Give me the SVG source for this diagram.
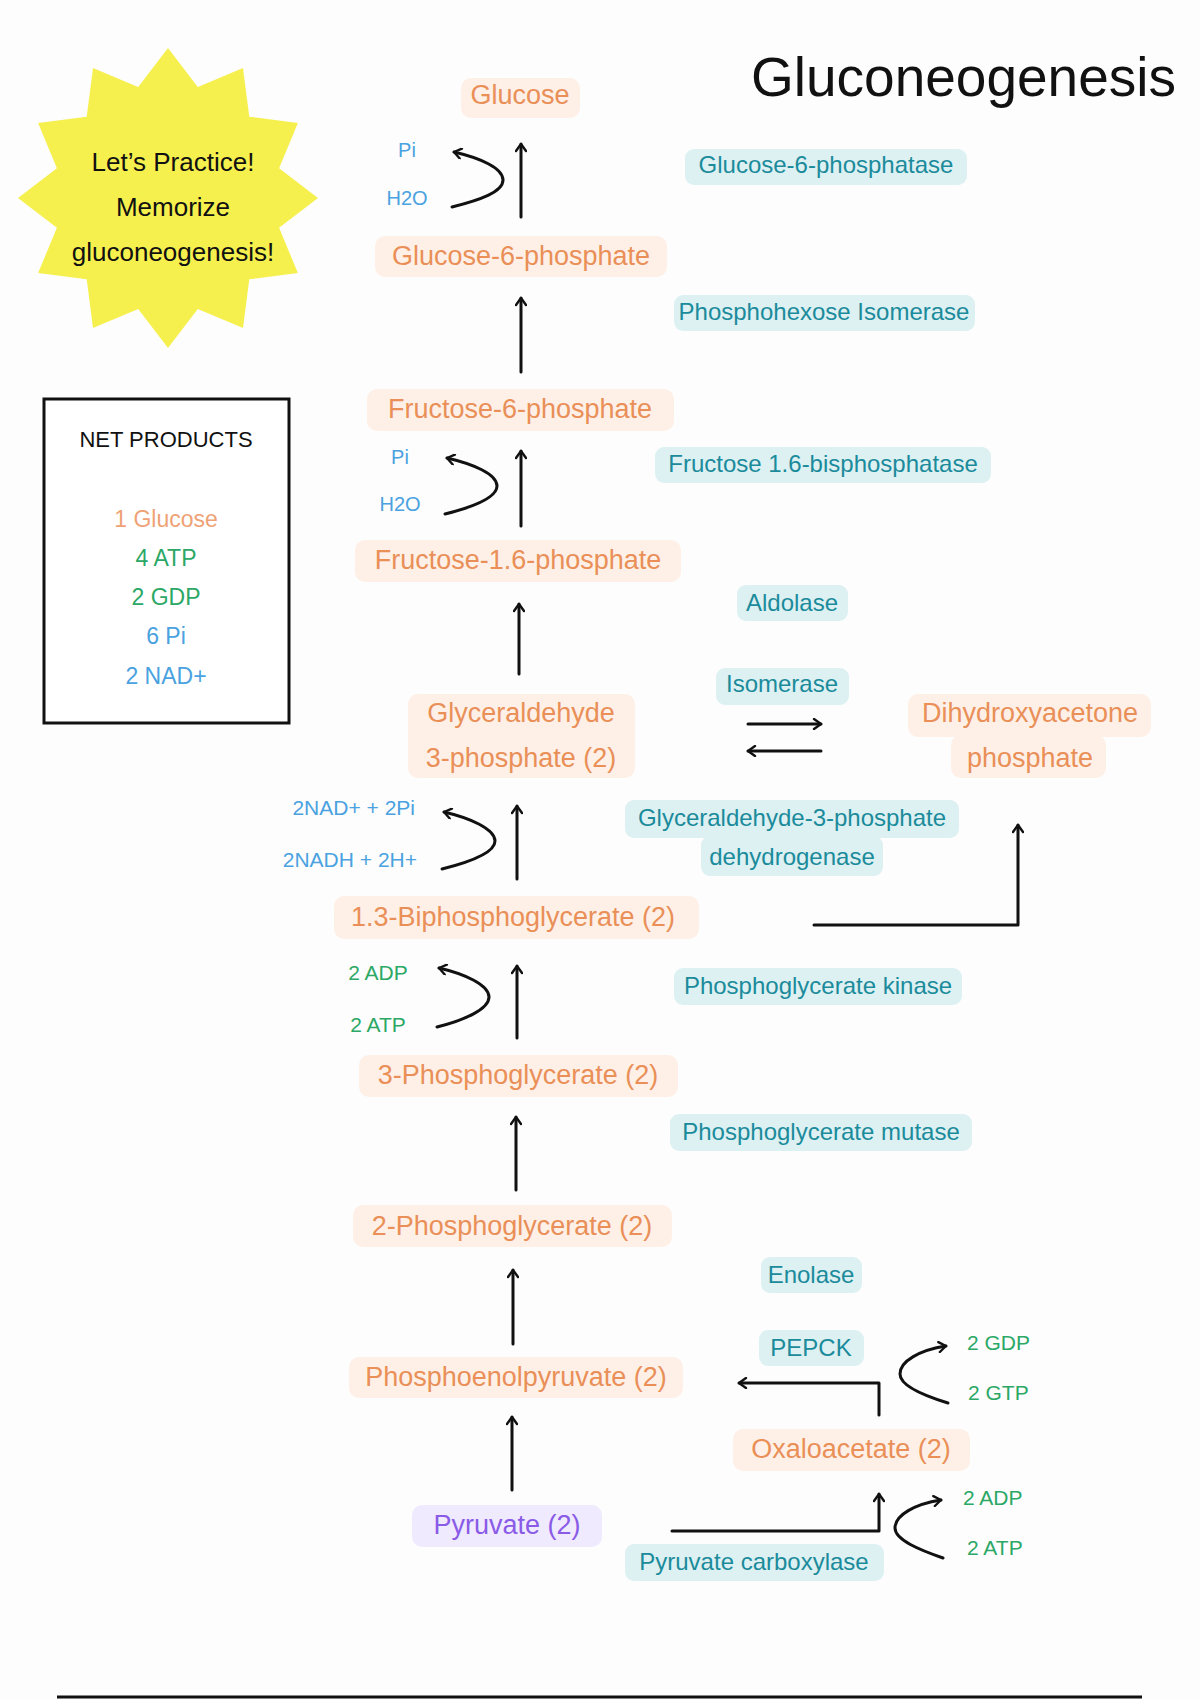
<svg xmlns="http://www.w3.org/2000/svg" width="1200" height="1700" viewBox="0 0 1200 1700">
<defs>
<marker id="ah" viewBox="0 0 12 12" refX="10" refY="6" markerWidth="12" markerHeight="12" orient="auto" markerUnits="userSpaceOnUse">
<path d="M3,1 L10,6 L3,11" fill="none" stroke="#111" stroke-width="2.4" stroke-linecap="round" stroke-linejoin="round"/>
</marker>
<style>
text{font-family:"Liberation Sans","Noto Sans",Arial,sans-serif;}
.met rect{fill:#FEF0E7;}
.met text{fill:#E98F57;font-size:27px;text-anchor:middle;}
.enz rect{fill:#DDF1F3;}
.enz text{fill:#1B8B9B;font-size:24px;text-anchor:middle;}
.pyr rect{fill:#EFEAFE;}
.pyr text{fill:#8A5BE6;font-size:27px;text-anchor:middle;}
.blue{fill:#4AA2E0;}
.green{fill:#2BA866;}
.sm{font-size:20px;}
.sm1{font-size:21px;}
.sm2{font-size:21px;}
.ln{fill:none;stroke:#111;stroke-width:3;stroke-linecap:round;stroke-linejoin:round;}
.arr{marker-end:url(#ah);}
</style>
</defs>
<rect x="0" y="0" width="1200" height="1700" fill="#FDFDFD"/>

<!-- Title -->
<text id="title" x="1176" y="96" font-size="55" text-anchor="end" fill="#111">Gluconeogenesis</text>

<!-- Starburst -->
<g id="practice-star">
<polygon fill="#F6F04E" points="168,48 197.8,86.9 243,68.1 249.3,116.7 297.9,123 279.1,168.2 318,198 279.1,227.8 297.9,273 249.3,279.3 243,327.9 197.8,309.1 168,348 138.2,309.1 93,327.9 86.7,279.3 38.1,273 56.9,227.8 18,198 56.9,168.2 38.1,123 86.7,116.7 93,68.1 138.2,86.9"/>
<text x="173" y="171" font-size="26" text-anchor="middle" fill="#111">Let’s Practice!</text>
<text x="173" y="216" font-size="26" text-anchor="middle" fill="#111">Memorize</text>
<text x="173" y="261" font-size="26" text-anchor="middle" fill="#111">gluconeogenesis!</text>
</g>

<!-- Net products -->
<g id="net-products">
<rect x="44" y="399" width="245" height="324" fill="#FFFFFF" stroke="#111" stroke-width="3"/>
<text x="166" y="447" font-size="22" text-anchor="middle" fill="#111">NET PRODUCTS</text>
<text x="166" y="527" font-size="23" text-anchor="middle" fill="#EFA276">1 Glucose</text>
<text x="166" y="566" font-size="23" text-anchor="middle" class="green">4 ATP</text>
<text x="166" y="605" font-size="23" text-anchor="middle" class="green">2 GDP</text>
<text x="166" y="644" font-size="23" text-anchor="middle" class="blue">6 Pi</text>
<text x="166" y="684" font-size="23" text-anchor="middle" class="blue">2 NAD+</text>
</g>

<!-- Metabolites -->
<g id="glucose" class="met"><rect x="461" y="78" width="119" height="40" rx="10"/><text x="520" y="104">Glucose</text></g>
<g id="glucose-6-phosphate" class="met"><rect x="375" y="236" width="292" height="41" rx="10"/><text x="521" y="265">Glucose-6-phosphate</text></g>
<g id="fructose-6-phosphate" class="met"><rect x="367" y="389" width="307" height="42" rx="10"/><text x="520" y="418">Fructose-6-phosphate</text></g>
<g id="fructose-1-6-phosphate" class="met"><rect x="355" y="540" width="326" height="42" rx="10"/><text x="518" y="569">Fructose-1.6-phosphate</text></g>
<g id="glyceraldehyde-3-phosphate" class="met"><rect x="408" y="694" width="227" height="84" rx="10"/><text x="521" y="722">Glyceraldehyde</text><text x="521" y="767">3-phosphate (2)</text></g>
<g id="dihydroxyacetone-phosphate" class="met"><rect x="908" y="694" width="243" height="43" rx="10"/><rect x="951" y="735" width="155" height="43" rx="10"/><text x="1030" y="722">Dihydroxyacetone</text><text x="1030" y="767">phosphate</text></g>
<g id="bpg-1-3" class="met"><rect x="334" y="896" width="365" height="43" rx="10"/><text x="513" y="926">1.3-Biphosphoglycerate (2)</text></g>
<g id="pg-3" class="met"><rect x="359" y="1055" width="319" height="42" rx="10"/><text x="518" y="1084">3-Phosphoglycerate (2)</text></g>
<g id="pg-2" class="met"><rect x="353" y="1205" width="319" height="42" rx="10"/><text x="512" y="1235">2-Phosphoglycerate (2)</text></g>
<g id="pep" class="met"><rect x="349" y="1357" width="334" height="41" rx="10"/><text x="516" y="1386">Phosphoenolpyruvate (2)</text></g>
<g id="oxaloacetate" class="met"><rect x="733" y="1429" width="237" height="42" rx="10"/><text x="851" y="1458">Oxaloacetate (2)</text></g>
<g id="pyruvate" class="pyr"><rect x="412" y="1505" width="190" height="42" rx="10"/><text x="507" y="1534">Pyruvate (2)</text></g>

<!-- Enzymes -->
<g id="enz-g6pase" class="enz"><rect x="685" y="149" width="282" height="36" rx="9"/><text x="826" y="173">Glucose-6-phosphatase</text></g>
<g id="enz-phi" class="enz"><rect x="674" y="295" width="301" height="36" rx="9"/><text x="824" y="320">Phosphohexose Isomerase</text></g>
<g id="enz-fbpase" class="enz"><rect x="655" y="447" width="336" height="36" rx="9"/><text x="823" y="472">Fructose 1.6-bisphosphatase</text></g>
<g id="enz-aldolase" class="enz"><rect x="737" y="585" width="111" height="36" rx="9"/><text x="792" y="611">Aldolase</text></g>
<g id="enz-isomerase" class="enz"><rect x="716" y="668" width="133" height="37" rx="9"/><text x="782" y="692">Isomerase</text></g>
<g id="enz-gapdh" class="enz"><rect x="625" y="800" width="334" height="38" rx="9"/><rect x="701" y="836" width="182" height="40" rx="9"/><text x="792" y="826">Glyceraldehyde-3-phosphate</text><text x="792" y="865">dehydrogenase</text></g>
<g id="enz-pgk" class="enz"><rect x="674" y="968" width="288" height="37" rx="9"/><text x="818" y="994">Phosphoglycerate kinase</text></g>
<g id="enz-pgm" class="enz"><rect x="670" y="1114" width="302" height="37" rx="9"/><text x="821" y="1140">Phosphoglycerate mutase</text></g>
<g id="enz-enolase" class="enz"><rect x="761" y="1257" width="101" height="36" rx="9"/><text x="811" y="1283">Enolase</text></g>
<g id="enz-pepck" class="enz"><rect x="759" y="1330" width="105" height="36" rx="9"/><text x="811" y="1356">PEPCK</text></g>
<g id="enz-pc" class="enz"><rect x="625" y="1544" width="259" height="37" rx="9"/><text x="754" y="1570">Pyruvate carboxylase</text></g>

<!-- Cofactor labels -->
<g id="cofactors">
<text x="407" y="157" text-anchor="middle" class="blue sm">Pi</text>
<text x="407" y="205" text-anchor="middle" class="blue sm">H2O</text>
<text x="400" y="464" text-anchor="middle" class="blue sm">Pi</text>
<text x="400" y="511" text-anchor="middle" class="blue sm">H2O</text>
<text x="415" y="815" text-anchor="end" class="blue sm1">2NAD+ + 2Pi</text>
<text x="417" y="867" text-anchor="end" class="blue sm1">2NADH + 2H+</text>
<text x="378" y="980" text-anchor="middle" class="green sm2">2 ADP</text>
<text x="378" y="1032" text-anchor="middle" class="green sm2">2 ATP</text>
<text x="967" y="1350" class="green sm2">2 GDP</text>
<text x="968" y="1400" class="green sm2">2 GTP</text>
<text x="963" y="1505" class="green sm2">2 ADP</text>
<text x="967" y="1555" class="green sm2">2 ATP</text>
</g>

<!-- Connectors -->
<g id="connectors">
<line class="ln arr" x1="521" y1="217" x2="521" y2="144"/>
<line class="ln arr" x1="521" y1="372" x2="521" y2="298"/>
<line class="ln arr" x1="521" y1="526" x2="521" y2="451"/>
<line class="ln arr" x1="519" y1="674" x2="519" y2="604"/>
<line class="ln arr" x1="517" y1="879" x2="517" y2="806"/>
<line class="ln arr" x1="517" y1="1038" x2="517" y2="966"/>
<line class="ln arr" x1="516" y1="1190" x2="516" y2="1117"/>
<line class="ln arr" x1="513" y1="1344" x2="513" y2="1270"/>
<line class="ln arr" x1="512" y1="1490" x2="512" y2="1417"/>

<path class="ln arr" d="M452,207 C480,200 503,192 503,180 C503,168 480,158 454,152"/>
<path class="ln arr" d="M445,514 C473,507 497,498 497,486 C497,474 473,464 447,458"/>
<path class="ln arr" d="M442,869 C470,862 495,853 495,841 C495,829 470,818 444,812"/>
<path class="ln arr" d="M437,1027 C465,1020 489,1009 489,997 C489,985 465,974 439,968"/>
<path class="ln arr" d="M948,1403 C925,1396 900,1386 900,1374 C900,1361 920,1350 946,1346"/>
<path class="ln arr" d="M943,1558 C920,1550 895,1540 895,1528 C895,1515 915,1504 941,1500"/>

<line class="ln arr" x1="748" y1="724" x2="821" y2="724"/>
<line class="ln arr" x1="821" y1="751" x2="748" y2="751"/>

<polyline class="ln arr" points="814,925 1018,925 1018,825"/>
<polyline class="ln arr" points="879,1415 879,1383 739,1383"/>
<polyline class="ln arr" points="672,1531 879,1531 879,1494"/>
</g>

<line id="bottom-rule" x1="57" y1="1697" x2="1142" y2="1697" stroke="#111" stroke-width="3"/>
</svg>
